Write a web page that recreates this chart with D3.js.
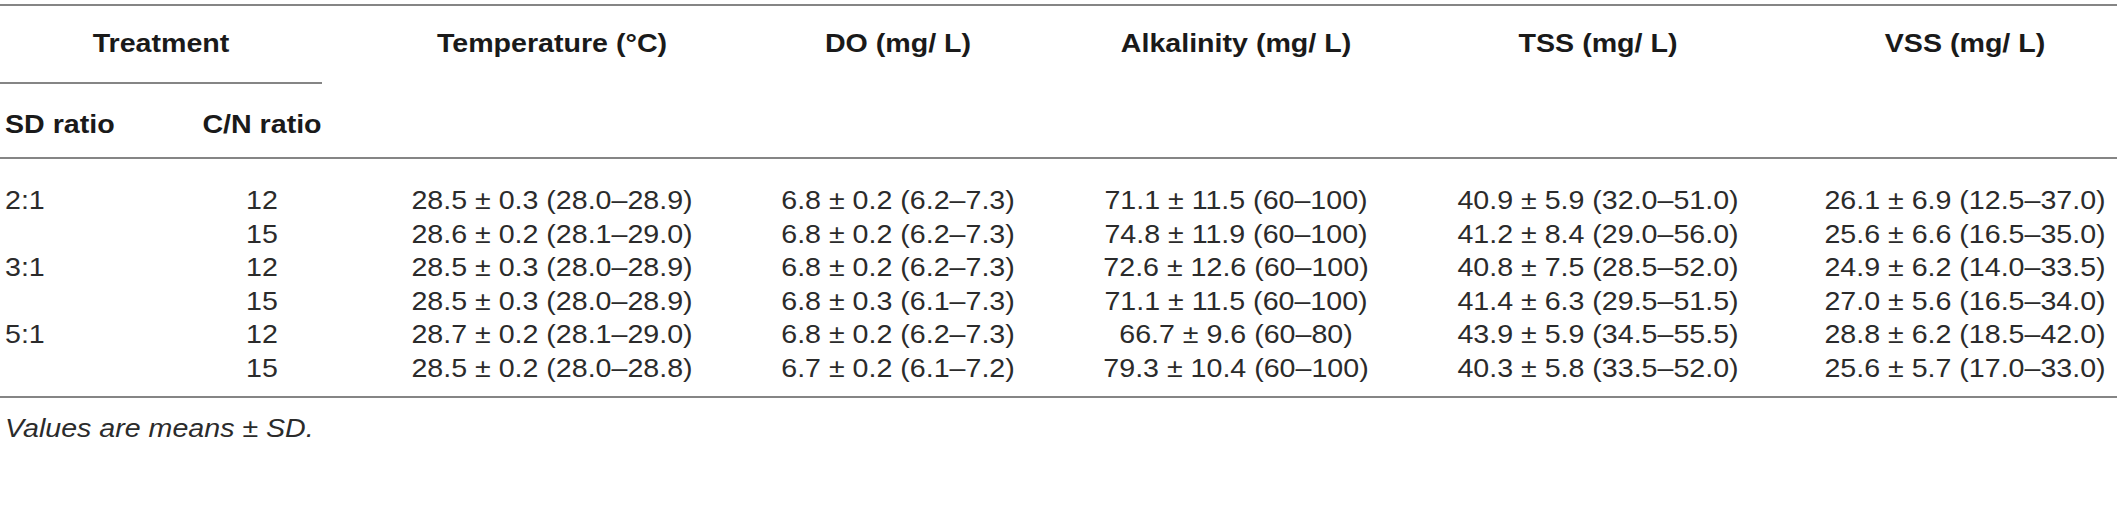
<!DOCTYPE html>
<html>
<head>
  <meta charset="utf-8">
  <title>Treatment table</title>
  <style>
    html, body { margin: 0; padding: 0; background: #fff; }
    svg text { font-family: "Liberation Sans", Arial, Helvetica, sans-serif; font-size: 26px; }
    .head { font-weight: bold; fill: #1a1a1a; }
    .cell { fill: #2b2b2b; }
    .note { font-style: italic; fill: #2b2b2b; }
    .rule { stroke: #858585; stroke-width: 2; }
  </style>
</head>
<body>
  <div id="table"></div>

  <script src="https://d3js.org/d3.v7.min.js"></script>
  <script>
    // Table content
    const sdRatios = ["2:1", "", "3:1", "", "5:1", ""];
    const cnRatios = ["12", "15", "12", "15", "12", "15"];
    const headers = ["Temperature (°C)", "DO (mg/ L)", "Alkalinity (mg/ L)", "TSS (mg/ L)", "VSS (mg/ L)"];

    const tempMean = [28.5, 28.6, 28.5, 28.5, 28.7, 28.5];
    const tempSD   = [0.3, 0.2, 0.3, 0.3, 0.2, 0.2];
    const tempLo   = [28.0, 28.1, 28.0, 28.0, 28.1, 28.0];
    const tempHi   = [28.9, 29.0, 28.9, 28.9, 29.0, 28.8];

    const doMean = [6.8, 6.8, 6.8, 6.8, 6.8, 6.7];
    const doSD   = [0.2, 0.2, 0.2, 0.3, 0.2, 0.2];
    const doLo   = [6.2, 6.2, 6.2, 6.1, 6.2, 6.1];
    const doHi   = [7.3, 7.3, 7.3, 7.3, 7.3, 7.2];

    const alkMean = [71.1, 74.8, 72.6, 71.1, 66.7, 79.3];
    const alkSD   = [11.5, 11.9, 12.6, 11.5, 9.6, 10.4];
    const alkLo   = [60, 60, 60, 60, 60, 60];
    const alkHi   = [100, 100, 100, 100, 80, 100];

    const tssMean = [40.9, 41.2, 40.8, 41.4, 43.9, 40.3];
    const tssSD   = [5.9, 8.4, 7.5, 6.3, 5.9, 5.8];
    const tssLo   = [32.0, 29.0, 28.5, 29.5, 34.5, 33.5];
    const tssHi   = [51.0, 56.0, 52.0, 51.5, 55.5, 52.0];

    const vssMean = [26.1, 25.6, 24.9, 27.0, 28.8, 25.6];
    const vssSD   = [6.9, 6.6, 6.2, 5.6, 6.2, 5.7];
    const vssLo   = [12.5, 16.5, 14.0, 16.5, 18.5, 17.0];
    const vssHi   = [37.0, 35.0, 33.5, 34.0, 42.0, 33.0];

    const footnote = "Values are means ± SD.";

    // Build column list from the arrays (alkalinity ranges are whole numbers)
    const columns = [
      { mean: tempMean, sd: tempSD, lo: tempLo, hi: tempHi, dec: 1 },
      { mean: doMean,   sd: doSD,   lo: doLo,   hi: doHi,   dec: 1 },
      { mean: alkMean,  sd: alkSD,  lo: alkLo,  hi: alkHi,  dec: 0 },
      { mean: tssMean,  sd: tssSD,  lo: tssLo,  hi: tssHi,  dec: 1 },
      { mean: vssMean,  sd: vssSD,  lo: vssLo,  hi: vssHi,  dec: 1 }
    ];

    const width = 2117, height = 510;
    const stretch = 1.1; // the source type is set a little wide

    const svg = d3.select("#table")
      .append("svg")
      .attr("width", width)
      .attr("height", height);

    // Column centres for the five measured variables
    const x = d3.scaleOrdinal()
      .domain(d3.range(headers.length))
      .range([552, 898, 1236, 1598, 1965]);

    // Row baselines
    const y = d3.scaleLinear()
      .domain([0, cnRatios.length - 1])
      .range([209, 377]);

    const sdX = 5, cnX = 262, treatX = 161;
    const head1Y = 52, head2Y = 133;

    // place text with a slight horizontal stretch
    function put(sel, fx, fy) {
      sel.attr("transform", (d, i) => `translate(${fx(d, i)},${fy(d, i)}) scale(${stretch},1)`);
    }

    // Rules
    const rules = [
      { y: 5, x1: 0, x2: width },
      { y: 83, x1: 0, x2: 322 },
      { y: 158, x1: 0, x2: width },
      { y: 397, x1: 0, x2: width }
    ];
    svg.selectAll("line.rule")
      .data(rules)
      .enter()
      .append("line")
      .attr("class", "rule")
      .attr("x1", d => d.x1)
      .attr("x2", d => d.x2)
      .attr("y1", d => d.y)
      .attr("y2", d => d.y);

    // Header row 1
    svg.append("text")
      .attr("class", "head")
      .attr("text-anchor", "middle")
      .text("Treatment")
      .call(put, () => treatX, () => head1Y);

    svg.selectAll("text.colhead")
      .data(headers)
      .enter()
      .append("text")
      .attr("class", "head colhead")
      .attr("text-anchor", "middle")
      .text(d => d)
      .call(put, (d, i) => x(i), () => head1Y);

    // Header row 2
    svg.append("text")
      .attr("class", "head")
      .text("SD ratio")
      .call(put, () => sdX, () => head2Y);

    svg.append("text")
      .attr("class", "head")
      .attr("text-anchor", "middle")
      .text("C/N ratio")
      .call(put, () => cnX, () => head2Y);

    // Body
    svg.selectAll("text.sd")
      .data(sdRatios)
      .enter()
      .append("text")
      .attr("class", "cell sd")
      .text(d => d)
      .call(put, () => sdX, (d, i) => y(i));

    svg.selectAll("text.cn")
      .data(cnRatios)
      .enter()
      .append("text")
      .attr("class", "cell cn")
      .attr("text-anchor", "middle")
      .text(d => d)
      .call(put, () => cnX, (d, i) => y(i));

    columns.forEach((col, c) => {
      const cells = col.mean.map((m, i) =>
        `${m.toFixed(1)} ± ${col.sd[i].toFixed(1)} (${col.lo[i].toFixed(col.dec)}–${col.hi[i].toFixed(col.dec)})`);
      svg.selectAll(`text.col${c}`)
        .data(cells)
        .enter()
        .append("text")
        .attr("class", `cell col${c}`)
        .attr("text-anchor", "middle")
        .text(d => d)
        .call(put, () => x(c), (d, i) => y(i));
    });

    // Footnote
    svg.append("text")
      .attr("class", "note")
      .text(footnote)
      .call(put, () => sdX, () => 437);
  </script>
</body>
</html>
